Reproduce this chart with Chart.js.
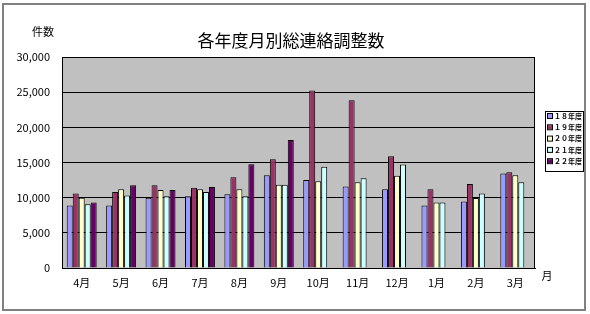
<!DOCTYPE html>
<html lang="ja">
<head>
<meta charset="UTF-8">
<title>各年度月別総連絡調整数</title>
<script src="https://cdn.jsdelivr.net/npm/chart.js"></script>
<style>
    * { margin: 0; padding: 0; box-sizing: border-box; }
    html, body { width: 590px; height: 314px; background: #fff; overflow: hidden; }
    #wrap { position: relative; width: 590px; height: 314px; }
</style>
</head>
<body>
<div id="wrap"><canvas id="chart" width="590" height="314"></canvas></div>

<script>
    const months = ['4月', '5月', '6月', '7月', '8月', '9月', '10月', '11月', '12月', '1月', '2月', '3月'];
    const fy18 = [8900, 8900, 10000, 10200, 10500, 13200, 12500, 11600, 11200, 8900, 9450, 13450];
    const fy19 = [10600, 10800, 11750, 11400, 12900, 15450, 25250, 23850, 15900, 11200, 11950, 13600];
    const fy20 = [10000, 11200, 11100, 11200, 11200, 11850, 12350, 12200, 13100, 9300, 9950, 13200];
    const fy21 = [9050, 10300, 10200, 10800, 10200, 11850, 14400, 12750, 14700, 9300, 10600, 12200];
    const fy22 = [9300, 11750, 11100, 11500, 14750, 18200, null, null, null, null, null, null];
    const seriesNames = ['１８年度', '１９年度', '２０年度', '２１年度', '２２年度'];
    const yTicks = [0, 5000, 10000, 15000, 20000, 25000, 30000];

    const title = '各年度月別総連絡調整数';
    const yTitle = '件数';
    const xTitle = '月';

    const colors = ['#9999ff', '#993366', '#ffffcc', '#ccffff', '#660066'];
    const font = "'Noto Sans CJK JP', 'DejaVu Sans', sans-serif";

    // 背景・枠・タイトル・凡例
    const frame = {
        id: 'frame',
        beforeDraw(chart) {
            const c = chart.ctx, a = chart.chartArea;
            c.save();
            c.fillStyle = '#fff';
            c.fillRect(0, 0, chart.width, chart.height);
            c.strokeStyle = '#808080';
            c.lineWidth = 2;
            c.strokeRect(3, 4, 582, 306);
            c.fillStyle = '#c0c0c0';
            c.fillRect(a.left, a.top, a.right - a.left, a.bottom - a.top);
            c.restore();
        },
        afterDraw(chart) {
            const c = chart.ctx, a = chart.chartArea;
            c.save();
            c.strokeStyle = '#000';
            c.lineWidth = 1;
            c.strokeRect(Math.round(a.left) + 0.5, Math.round(a.top) + 0.5,
                Math.round(a.right - a.left) - 1, Math.round(a.bottom - a.top));

            c.fillStyle = '#000';
            c.textAlign = 'center';
            c.textBaseline = 'middle';
            c.font = '17px ' + font;
            c.fillText(title, 291, 41);
            c.font = '11px ' + font;
            c.fillText(yTitle, 43, 32);
            c.fillText(xTitle, 547, 276);

            // 凡例
            c.fillStyle = '#fff';
            c.fillRect(545, 111, 38, 60);
            c.strokeRect(545.5, 111.5, 38, 60);
            c.font = 'bold 7px ' + font;
            c.textAlign = 'left';
            chart.data.datasets.forEach((ds, i) => {
                const y = 116 + i * 11.3;
                c.fillStyle = ds.backgroundColor;
                c.fillRect(548, y - 2, 4, 4);
                c.strokeStyle = '#000';
                c.strokeRect(547.5, y - 2.5, 5, 5);
                c.fillStyle = '#000';
                c.fillText(ds.label, 554, y);
            });
            c.restore();
        }
    };

    const all = [fy18, fy19, fy20, fy21, fy22];
    const datasets = all.map((d, i) => ({
        label: seriesNames[i],
        data: d,
        backgroundColor: colors[i],
        borderColor: '#000',
        borderWidth: 1,
        borderSkipped: 'bottom'
    }));

    new Chart(document.getElementById('chart').getContext('2d'), {
        type: 'bar',
        data: { labels: months, datasets: datasets },
        options: {
            responsive: false,
            animation: false,
            layout: { padding: { top: 57, right: 55, left: 0, bottom: 0 } },
            categoryPercentage: 0.76,
            barPercentage: 1.0,
            plugins: {
                legend: { display: false },
                tooltip: { enabled: false }
            },
            scales: {
                x: {
                    grid: { display: false, drawTicks: false },
                    border: { color: '#000', width: 1 },
                    ticks: {
                        color: '#000',
                        font: { family: font, size: 11 },
                        padding: 8,
                        maxRotation: 0
                    },
                    afterFit(s) { s.height = 46; }
                },
                y: {
                    min: 0,
                    max: 30000,
                    afterBuildTicks(s) { s.ticks = yTicks.map(v => ({ value: v })); },
                    grid: { color: '#000', drawTicks: false },
                    border: { color: '#000', width: 1 },
                    ticks: {
                        color: '#000',
                        font: { family: font, size: 11 },
                        padding: 12,
                        callback: v => v.toLocaleString('en-US')
                    },
                    afterFit(s) { s.width = 62; }
                }
            }
        },
        plugins: [frame]
    });
</script>
</body>
</html>
